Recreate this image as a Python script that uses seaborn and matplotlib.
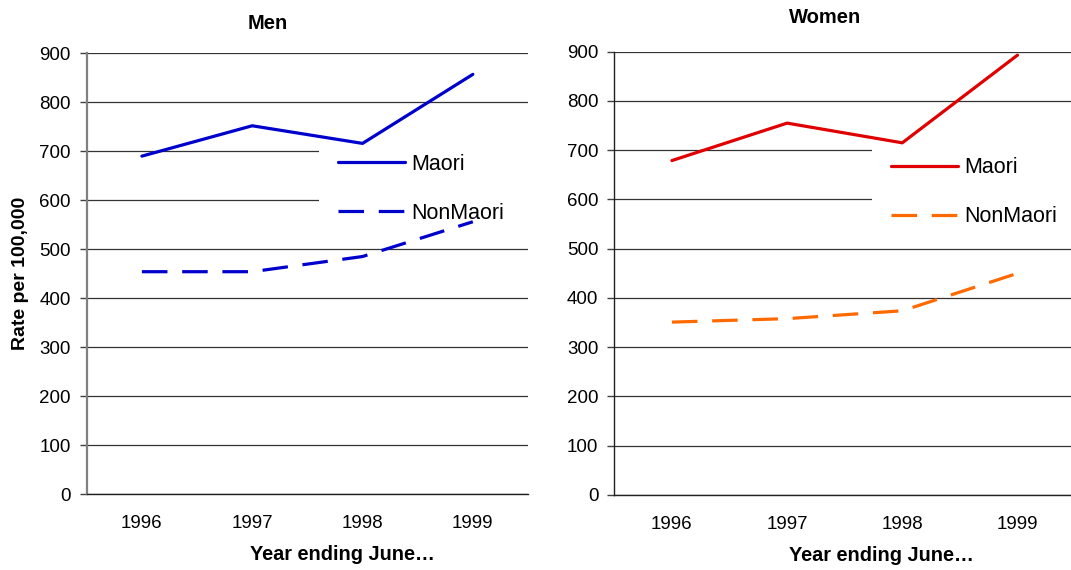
import numpy as np
import pandas as pd
import seaborn as sns
import matplotlib.pyplot as plt

# datos
years = ["1996", "1997", "1998", "1999"]
groups = ["Maori", "NonMaori"]
men_maori = [690, 752, 716, 857]
men_nonmaori = [454, 454, 485, 556]
women_maori = [679, 755, 715, 893]
women_nonmaori = [351, 358, 374, 450]

sns.set_style("white")
plt.rcParams['font.family'] = ['Liberation Sans', 'DejaVu Sans']
plt.rcParams['text.color'] = 'black'
plt.rcParams['axes.labelcolor'] = 'black'
plt.rcParams['xtick.color'] = 'black'
plt.rcParams['ytick.color'] = 'black'

fig = plt.figure(figsize=(10.71, 5.70), dpi=100)
ax1 = fig.add_axes([0.0810, 0.1333, 0.4120, 0.7732])
ax2 = fig.add_axes([0.5736, 0.1316, 0.4302, 0.7777])

paneles = [
    (ax1, "Men", men_maori, men_nonmaori, ["#0000CC", "#0000CC"], 0.41, 1.054, "#808080", 0.526, 0.693),
    (ax2, "Women", women_maori, women_nonmaori, ["#E00000", "#FF6A00"], 0.457, 1.065, "#202020", 0.559, 0.683),
]

for ax, titulo, maori, nonmaori, colores, tx, ty, spine_col, lx, ly in paneles:
    df = pd.DataFrame({
        "year": years * 2,
        "rate": maori + nonmaori,
        "group": [groups[0]] * 4 + [groups[1]] * 4,
    })
    sns.lineplot(data=df, x="year", y="rate", hue="group", style="group",
                 palette=dict(zip(groups, colores)),
                 dashes={"Maori": "", "NonMaori": (8, 4.6)},
                 linewidth=2.3, sort=False, legend=False, ax=ax, zorder=3)

    ax.set_xlim(-0.5, 3.5)
    ax.set_ylim(0, 900)
    ax.set_yticks(np.arange(0, 901, 100))
    ax.set_xticks(range(len(years)))
    ax.set_xticklabels(years)
    ax.set_xticks(np.arange(-0.5, 4, 1), minor=True)
    ax.tick_params(axis='x', which='major', length=0, pad=15, labelsize=13.5)
    ax.tick_params(axis='x', which='minor', length=5, width=1, color="#202020")
    ax.tick_params(axis='y', length=5, width=1, color="#404040", pad=6.5, labelsize=13.5, left=True)

    ax.set_axisbelow(True)
    ax.yaxis.grid(True, color="#333333", linewidth=0.9)
    ax.xaxis.grid(False)
    sns.despine(ax=ax)
    ax.spines['left'].set_color(spine_col)
    ax.spines['left'].set_linewidth(1.6 if titulo == "Men" else 1.0)
    ax.spines['bottom'].set_color("#202020")
    ax.spines['bottom'].set_linewidth(1.0)

    ax.set_title(titulo, x=tx, y=ty, pad=0, fontsize=14.5, fontweight='bold')
    ax.set_xlabel("Year ending June…", fontsize=14.3, fontweight='bold')
    ax.xaxis.set_label_coords(0.58, -0.116)
    if titulo == "Men":
        ax.set_ylabel("Rate per 100,000", fontsize=14, fontweight='bold')
        ax.yaxis.set_label_coords(-0.13, 0.5)
    else:
        ax.set_ylabel("")

    # caja de leyenda blanca que llega hasta el borde derecho
    leg = ax.legend(ax.lines[:2], groups, loc='center left', mode='expand',
                    bbox_to_anchor=(lx, ly - 0.05, 1.03 - lx, 0.1),
                    borderaxespad=0, frameon=True, facecolor='white', edgecolor='none',
                    framealpha=1, fancybox=False, fontsize=15.5, handlelength=3.1,
                    handletextpad=0.3, labelspacing=1.3, borderpad=0.9)
    leg.set_zorder(2.5)

plt.savefig("out.png", dpi=100)
